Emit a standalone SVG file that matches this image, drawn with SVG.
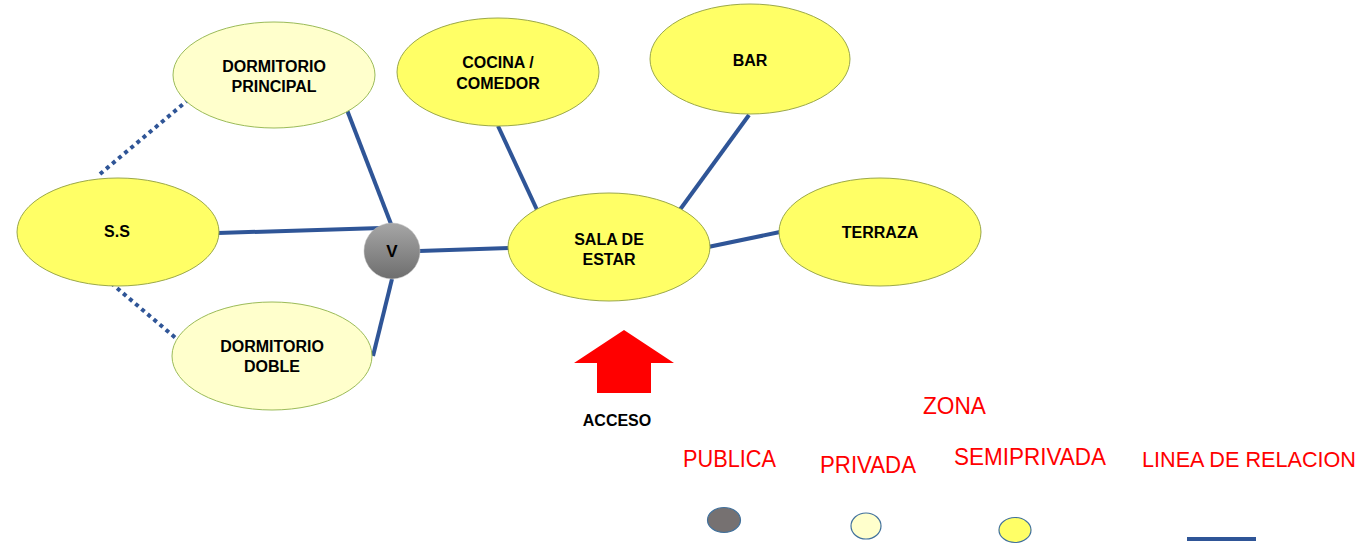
<svg xmlns="http://www.w3.org/2000/svg" width="1363" height="544" viewBox="0 0 1363 544">
<style>
.priv{fill:#FFFFCC;stroke:#9BBB59;stroke-width:1}
.semi{fill:#FFFF66;stroke:#9BA84A;stroke-width:1}
.lbl{font-family:"Liberation Sans",Arial,sans-serif;font-weight:bold;font-size:16px;fill:#000;text-anchor:middle}
.rel{stroke:#2F5597;stroke-width:4;fill:none}
.dot{stroke:#2F5597;stroke-width:4;fill:none;stroke-dasharray:4 4}
.leg{font-family:"Liberation Sans",Arial,sans-serif;font-size:23.5px;fill:#FF0000}
</style>
<defs>
<linearGradient id="gv" x1="0" y1="0" x2="0" y2="1">
<stop offset="0" stop-color="#A6A6A6"/>
<stop offset="1" stop-color="#6E6E6E"/>
</linearGradient>
</defs>
<rect width="1363" height="544" fill="#FFFFFF"/>
<g id="connectors">
<line class="rel" x1="347" y1="110" x2="391" y2="224"/>
<line class="rel" x1="218" y1="233" x2="381" y2="228"/>
<line class="rel" x1="373" y1="356" x2="392" y2="279"/>
<line class="rel" x1="419" y1="251" x2="509" y2="248"/>
<line class="rel" x1="498" y1="126" x2="538" y2="212"/>
<line class="rel" x1="749" y1="115" x2="679" y2="211"/>
<line class="rel" x1="708" y1="247" x2="780" y2="232"/>
<line class="dot" x1="100" y1="174" x2="188" y2="100"/>
<line class="dot" x1="111" y1="283" x2="178" y2="340"/>
</g>
<g id="dormitorio-principal">
<ellipse class="priv" cx="274" cy="75" rx="101" ry="53"/>
<text class="lbl" x="274" y="72">DORMITORIO</text>
<text class="lbl" x="274" y="92">PRINCIPAL</text>
</g>
<g id="ss">
<ellipse class="semi" cx="118" cy="232" rx="101" ry="54"/>
<text class="lbl" x="117" y="237">S.S</text>
</g>
<g id="dormitorio-doble">
<ellipse class="priv" cx="272" cy="356" rx="100" ry="54"/>
<text class="lbl" x="272" y="352">DORMITORIO</text>
<text class="lbl" x="272" y="372">DOBLE</text>
</g>
<g id="v">
<circle cx="392" cy="251" r="28" fill="url(#gv)" stroke="#BFBFBF" stroke-width="0.5"/>
<text class="lbl" x="392" y="257" style="font-size:17px">V</text>
</g>
<g id="cocina-comedor">
<ellipse class="semi" cx="498" cy="72" rx="101" ry="54"/>
<text class="lbl" x="498" y="68">COCINA /</text>
<text class="lbl" x="498" y="89">COMEDOR</text>
</g>
<g id="bar">
<ellipse class="semi" cx="750" cy="59" rx="100" ry="55"/>
<text class="lbl" x="750" y="66">BAR</text>
</g>
<g id="sala-de-estar">
<ellipse class="semi" cx="609" cy="247" rx="101" ry="54"/>
<text class="lbl" x="609" y="245">SALA DE</text>
<text class="lbl" x="609" y="265">ESTAR</text>
</g>
<g id="terraza">
<ellipse class="semi" cx="880" cy="232" rx="101" ry="54"/>
<text class="lbl" x="880" y="238">TERRAZA</text>
</g>
<g id="acceso">
<polygon points="624,330 674,363 651,363 651,393 597,393 597,363 574,363" fill="#FF0000"/>
<text class="lbl" x="617" y="426">ACCESO</text>
</g>
<g id="legend">
<text class="leg" x="923" y="414" textLength="63" lengthAdjust="spacingAndGlyphs">ZONA</text>
<text class="leg" x="683" y="467" textLength="93" lengthAdjust="spacingAndGlyphs">PUBLICA</text>
<text class="leg" x="820" y="473" textLength="96" lengthAdjust="spacingAndGlyphs">PRIVADA</text>
<text class="leg" x="954" y="465" textLength="152" lengthAdjust="spacingAndGlyphs">SEMIPRIVADA</text>
<text class="leg" x="1142" y="467" style="font-size:21.5px" textLength="214" lengthAdjust="spacingAndGlyphs">LINEA DE RELACION</text>
<ellipse cx="724" cy="520" rx="16.5" ry="12.5" fill="#767171" stroke="#41719C" stroke-width="1.2"/>
<ellipse cx="866" cy="526" rx="15" ry="13" fill="#FFFFCC" stroke="#41719C" stroke-width="1.2"/>
<ellipse cx="1015" cy="530" rx="16" ry="12.5" fill="#FFFF66" stroke="#41719C" stroke-width="1.2"/>
<line class="rel" x1="1187" y1="539" x2="1256" y2="539"/>
</g>
</svg>
